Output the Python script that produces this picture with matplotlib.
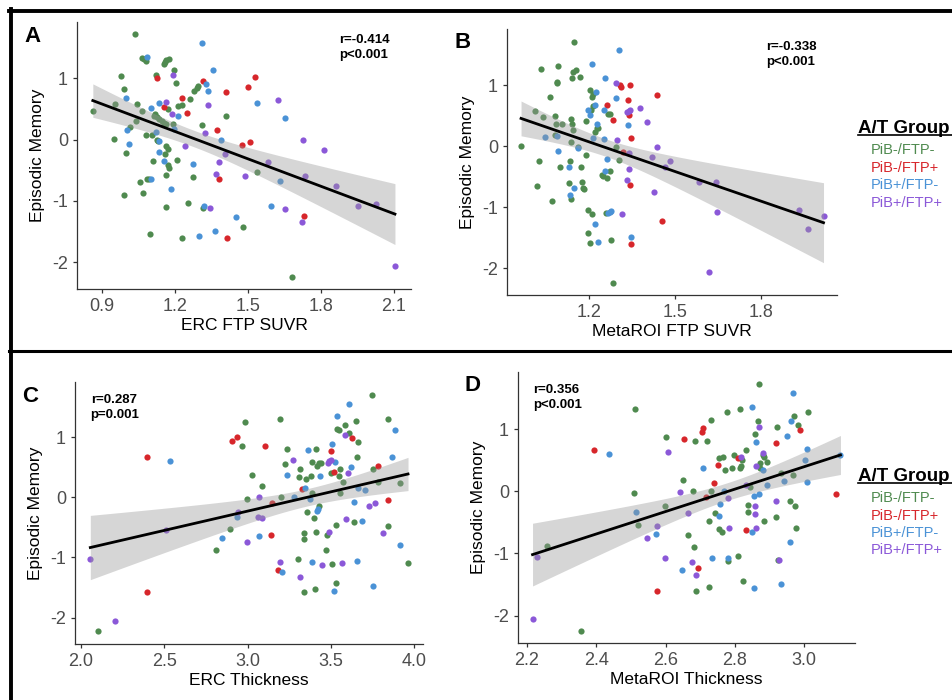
import numpy as np
import matplotlib
matplotlib.use("Agg")
import matplotlib.pyplot as plt
from matplotlib.lines import Line2D

plt.rcParams['font.family'] = ['Liberation Sans', 'DejaVu Sans']

groups = ["PiB-/FTP-", "PiB-/FTP+", "PiB+/FTP-", "PiB+/FTP+"]
group_colors = ["#4f8a4f", "#d7262b", "#4a92d6", "#8b58d8"]
y_label = "Episodic Memory"

# ---- panel A: ERC FTP SUVR ----
erc_suvr_x = [
    [1.034, 1.064, 1.082, 1.074, 0.977, 0.990, 1.123, 1.153, 1.157, 1.162, 1.175, 1.197, 1.205,
     1.045, 0.953, 0.862, 1.065, 1.112, 1.119, 1.126, 1.136, 1.146, 1.153, 1.162, 1.171, 1.191,
     1.214, 1.228, 1.262, 1.280, 1.290, 1.296, 1.311, 1.408, 1.041, 1.013, 0.949, 1.080, 1.105,
     1.126, 1.132, 1.000, 1.109, 1.157, 1.162, 1.173, 1.171, 1.176, 1.161, 1.208, 1.085, 1.091,
     1.057, 1.068, 0.992, 1.272, 1.255, 1.164, 1.317, 1.098, 1.228, 1.478, 1.680, 1.538],
    [1.126, 1.315, 1.228, 1.153, 1.249, 1.410, 1.499, 1.527, 1.373, 1.475, 1.510, 1.381, 1.732, 1.414],
    [1.085, 1.311, 1.358, 1.326, 1.337, 0.997, 1.100, 1.136, 1.213, 1.194, 1.003, 1.011, 1.120,
     1.134, 1.136, 1.156, 1.184, 1.273, 1.101, 1.389, 1.537, 1.652, 1.320, 1.451, 1.300, 1.363,
     1.594, 1.630],
    [1.191, 1.164, 1.337, 1.188, 1.322, 1.239, 1.380, 1.404, 1.369, 1.486, 1.343, 1.581, 1.622,
     1.728, 1.813, 1.736, 1.862, 1.952, 2.026, 1.653, 1.720, 2.104],
]
erc_suvr_y = [
    [1.73, 1.33, 1.28, 1.31, 1.04, 0.82, 1.06, 1.23, 1.27, 1.30, 1.32, 1.13, 0.93,
     0.58, 0.58, 0.47, 0.46, 0.38, 0.41, 0.37, 0.34, 0.30, 0.27, 0.26, 0.50, 0.26,
     0.55, 0.56, 0.67, 0.80, 0.85, 0.87, 0.24, 0.38, 0.31, 0.20, 0.01, 0.07, 0.08,
     0.00, -0.03, -0.22, -0.35, -0.23, -0.11, -0.15, -0.41, -0.46, -0.58, -0.34, -0.65, -0.65,
     -0.70, -0.88, -0.90, -0.61, -1.04, -1.10, -1.12, -1.54, -1.60, -1.43, -2.25, -0.53],
    [1.00, 0.95, 0.68, 0.53, 0.44, 0.77, 0.86, 1.02, 0.15, -0.09, -0.04, -0.64, -1.24, -1.60],
    [1.35, 1.58, 1.13, 0.90, 0.79, 0.68, 0.51, 0.59, 0.38, 0.17, 0.16, -0.08, 0.12,
     -0.03, -0.21, -0.35, -0.81, -0.40, -0.65, 0.00, 0.60, 0.35, -1.08, -1.27, -1.57, -1.49,
     -1.08, -0.68],
    [1.05, 0.61, 0.57, 0.41, 0.11, -0.10, -0.37, -0.23, -0.56, -0.59, -1.11, -0.36, 0.64,
     -0.01, -0.17, -0.60, -0.75, -1.08, -1.05, -1.14, -1.35, -2.07],
]

# ---- panel B: MetaROI FTP SUVR ----
meta_suvr_x = [
    [1.146, 1.031, 1.091, 1.144, 1.156, 1.140, 1.167, 1.087, 1.089, 1.065, 1.013, 1.040, 1.081,
     1.086, 1.107, 1.083, 1.138, 1.139, 1.143, 1.191, 1.202, 1.209, 1.214, 1.213, 1.208, 1.221,
     1.228, 1.233, 1.267, 1.272, 1.025, 1.100, 1.132, 1.172, 1.191, 1.020, 1.130, 1.175, 1.179,
     1.181, 1.137, 1.072, 1.138, 1.161, 1.303, 1.246, 1.250, 1.264, 1.272, 1.195, 1.209, 1.198,
     1.205, 1.278, 1.261, 1.282, 0.963, 1.293],
    [1.311, 1.307, 1.342, 1.337, 1.262, 1.340, 1.282, 1.347, 1.317, 1.436, 1.342, 1.454, 1.346],
    [1.303, 1.211, 1.255, 1.226, 1.293, 1.195, 1.204, 1.221, 1.254, 1.335, 1.229, 1.045, 1.088,
     1.093, 1.160, 1.215, 1.251, 1.262, 1.255, 1.130, 1.146, 1.132, 1.278, 1.272, 1.267, 1.220,
     1.233, 1.345],
    [1.293, 1.331, 1.342, 1.338, 1.379, 1.403, 1.299, 1.340, 1.438, 1.419, 1.484, 1.338, 1.331,
     1.426, 1.465, 1.585, 1.642, 1.646, 1.314, 1.931, 1.963, 2.018, 1.620],
]
meta_suvr_y = [
    [1.71, 1.27, 1.31, 1.22, 1.25, 1.12, 1.13, 1.05, 1.03, 0.80, 0.57, 0.47, 0.49,
     0.37, 0.37, 0.18, 0.45, 0.36, 0.26, 0.41, 0.92, 0.80, 0.85, 0.65, 0.59, 0.23,
     0.30, 0.29, 0.53, 0.52, -0.25, -0.35, -0.25, -0.35, -0.15, -0.65, -0.61, -0.58, -0.68,
     -0.71, -0.87, -0.90, 0.07, -0.01, -0.22, -0.47, -0.49, -0.53, -0.41, -1.04, -1.12, -1.43,
     -1.59, -1.54, -1.10, -2.24, 0.01, -0.01],
    [0.97, 1.00, 1.01, 0.76, 0.67, 0.51, 0.43, 0.14, -0.10, 0.84, -0.64, -1.23, -1.60],
    [1.57, 1.34, 1.11, 0.88, 0.79, 0.60, 0.51, 0.67, 0.59, 0.34, 0.37, 0.15, 0.17,
     -0.08, -0.03, 0.14, 0.11, -0.21, -0.40, -0.35, -0.68, -0.80, -1.06, -1.08, -1.09, -1.27,
     -1.57, -1.49],
    [1.04, 0.56, 0.60, 0.58, 0.63, 0.40, 0.10, -0.11, -0.01, -0.17, -0.25, -0.37, -0.56,
     -0.75, -0.35, -0.59, -0.59, -1.08, -1.11, -1.05, -1.35, -1.15, -2.06],
]

# ---- panel C: ERC thickness ----
erc_thick_x = [
    [3.748, 2.985, 3.193, 2.965, 3.025, 3.089, 3.237, 3.227, 3.313, 3.309, 3.353, 3.379, 3.389,
     3.409, 3.431, 3.415, 3.439, 3.536, 3.548, 3.586, 3.612, 3.652, 3.666, 3.660, 3.842, 3.554,
     3.500, 3.552, 3.576, 3.756, 3.786, 3.916, 3.556, 3.385, 3.199, 2.997, 3.359, 3.399, 3.431,
     3.341, 3.339, 3.409, 3.475, 3.532, 3.642, 3.842, 2.895, 2.809, 3.469, 3.305, 3.506, 3.530,
     3.964, 3.405, 3.337, 2.104],
    [2.907, 2.939, 3.103, 2.398, 3.500, 3.520, 3.626, 3.786, 3.327, 3.844, 3.139, 3.183, 2.398, 3.145],
    [3.612, 3.536, 3.884, 3.510, 3.365, 3.528, 3.622, 3.868, 3.235, 3.437, 3.345, 3.281, 3.375,
     3.425, 3.417, 3.662, 3.704, 3.642, 3.690, 2.533, 2.847, 3.071, 2.939, 3.658, 3.387, 3.209,
     3.522, 3.752, 3.916],
    [3.584, 3.271, 3.492, 3.486, 3.502, 3.602, 3.067, 2.943, 3.089, 3.065, 2.997, 2.509, 2.056,
     2.202, 3.728, 3.764, 3.590, 3.490, 3.816, 3.197, 3.445, 3.568, 3.313],
]
erc_thick_y = [
    [1.71, 1.26, 1.30, 0.85, 0.37, 0.19, 0.80, 0.55, 0.48, 0.34, 0.30, 0.36, 0.59,
     0.80, 0.58, 0.52, 0.58, 1.13, 1.12, 1.21, 1.07, 1.27, 0.92, 0.67, 1.31, 0.47,
     0.41, 0.36, 0.26, 0.48, 0.26, 0.24, 0.07, 0.07, 0.01, -0.02, -0.24, -0.34, -0.14,
     -0.60, -0.69, -0.57, -0.63, -0.46, -0.41, -0.47, -0.53, -0.87, -0.88, -1.02, -1.11, -1.42,
     -1.09, -1.53, -1.58, -2.23],
    [0.94, 1.01, 0.85, 0.67, 0.77, 0.43, 0.98, 0.52, 0.14, -0.04, -0.62, -1.21, -1.58, -0.09],
    [1.56, 1.35, 1.12, 0.89, 0.79, 0.59, 0.51, 0.68, 0.37, 0.35, 0.16, 0.01, -0.02,
     -0.19, -0.22, 0.15, 0.12, -0.07, -0.39, 0.60, -0.68, -0.64, -0.33, -1.06, -1.07, -1.25,
     -1.55, -1.47, -0.79],
    [1.04, 0.63, 0.60, 0.57, 0.62, 0.41, 0.00, -0.24, -0.35, -0.33, -0.74, -0.54, -1.03,
     -2.05, -0.15, -0.10, -0.36, -0.58, -0.59, -1.07, -1.13, -1.09, -1.33],
]

# ---- panel D: MetaROI thickness ----
meta_thick_x = [
    [2.869, 2.511, 3.011, 2.778, 2.816, 2.972, 2.732, 2.868, 2.981, 2.921, 2.600, 2.686, 2.720,
     2.858, 2.833, 2.882, 2.884, 2.798, 2.753, 2.767, 2.821, 2.819, 2.874, 2.894, 2.773, 2.791,
     2.814, 2.872, 2.651, 2.933, 2.968, 2.509, 2.730, 2.679, 2.845, 2.599, 2.958, 2.973, 2.837,
     2.838, 2.918, 2.744, 2.726, 2.753, 2.764, 2.884, 2.976, 2.666, 2.681, 2.521, 2.258, 2.781,
     2.809, 2.824, 2.725, 2.687, 2.357, 2.925],
    [2.709, 2.705, 2.654, 2.393, 2.989, 2.920, 2.752, 2.810, 2.740, 2.716, 3.091, 2.832, 2.695, 2.574],
    [2.967, 2.850, 2.961, 2.952, 2.862, 3.008, 3.105, 3.002, 2.709, 2.882, 2.893, 2.941, 2.769,
     2.855, 2.870, 2.758, 2.753, 2.849, 2.514, 2.572, 2.436, 2.647, 2.733, 2.780, 2.855, 2.934,
     2.958, 3.008],
    [2.870, 2.606, 2.819, 2.880, 2.861, 2.642, 2.779, 2.920, 2.857, 2.858, 2.666, 2.576, 2.547,
     2.782, 2.862, 2.598, 2.677, 2.687, 2.927, 2.230, 2.216, 2.833],
]
meta_thick_y = [
    [1.73, 1.32, 1.27, 1.27, 1.32, 1.21, 1.14, 1.13, 1.06, 1.03, 0.87, 0.81, 0.81,
     0.92, 0.67, 0.59, 0.56, 0.58, 0.53, 0.55, 0.50, 0.40, 0.46, 0.48, 0.34, 0.37,
     0.37, 0.37, 0.19, 0.30, 0.26, -0.02, 0.00, 0.01, 0.07, -0.24, -0.16, -0.24, -0.22,
     -0.34, -0.41, -0.35, -0.47, -0.61, -0.66, -0.48, -0.59, -0.70, -0.90, -0.54, -0.88, -1.12,
     -1.04, -1.44, -1.54, -1.60, -2.25, -1.10],
    [1.02, 0.95, 0.85, 0.67, 0.99, 0.77, 0.43, 0.53, 0.14, -0.09, -0.04, -0.63, -1.24, -1.60],
    [1.58, 1.35, 1.13, 0.89, 0.80, 0.68, 0.59, 0.50, 0.38, 0.35, 0.11, 0.16, 0.01,
     -0.08, -0.04, -0.21, -0.40, -0.66, -0.34, -0.68, 0.60, -1.27, -1.08, -1.07, -1.56, -1.49,
     -0.81, 0.15],
    [1.04, 0.64, 0.56, 0.61, 0.40, -0.01, -0.10, -0.16, -0.24, -0.37, -0.35, -0.55, -0.75,
     -0.59, -0.59, -1.08, -1.13, -1.34, -1.10, -1.05, -2.06, 0.10],
]

panels = [
    # letter, x label, xs, ys, xlim, xticks, stats text, axes rect in pixels (l, t, r, b), stats at right?
    ("A", "ERC FTP SUVR", erc_suvr_x, erc_suvr_y, (0.797, 2.17), [0.9, 1.2, 1.5, 1.8, 2.1],
     "r=-0.414\np<0.001", (77, 22, 411, 289), True),
    ("B", "MetaROI FTP SUVR", meta_suvr_x, meta_suvr_y, (0.914, 2.065), [1.2, 1.5, 1.8],
     "r=-0.338\np<0.001", (507, 29, 837, 295), True),
    ("C", "ERC Thickness", erc_thick_x, erc_thick_y, (1.964, 4.054), [2.0, 2.5, 3.0, 3.5, 4.0],
     "r=0.287\np=0.001", (75, 382, 423, 644), False),
    ("D", "MetaROI Thickness", meta_thick_x, meta_thick_y, (2.174, 3.147), [2.2, 2.4, 2.6, 2.8, 3.0],
     "r=0.356\np<0.001", (518, 372, 855, 643), False),
]

W, H = 952, 700
fig = plt.figure(figsize=(W / 100, H / 100), dpi=100)

for letter, xlab, xs, ys, xlim, xticks, stats, (l, t, r, b), stats_right in panels:
    ax = fig.add_axes([l / W, 1 - b / H, (r - l) / W, (b - t) / H])
    for gx, gy, col in zip(xs, ys, group_colors):
        ax.scatter(gx, gy, s=20, color=col, linewidths=0, zorder=2)

    # linear fit with 95% confidence band, like geom_smooth(method="lm")
    x_all = np.concatenate([np.array(g) for g in xs])
    y_all = np.concatenate([np.array(g) for g in ys])
    n = len(x_all)
    slope, icpt = np.polyfit(x_all, y_all, 1)
    resid = y_all - (slope * x_all + icpt)
    s_err = np.sqrt(np.sum(resid ** 2) / (n - 2))
    xg = np.linspace(x_all.min(), x_all.max(), 100)
    yg = slope * xg + icpt
    se = s_err * np.sqrt(1 / n + (xg - x_all.mean()) ** 2 / np.sum((x_all - x_all.mean()) ** 2))
    ax.fill_between(xg, yg - 1.98 * se, yg + 1.98 * se, color="#999999", alpha=0.4,
                    linewidth=0, zorder=3)
    ax.plot(xg, yg, color="black", lw=2, zorder=4)

    ax.set_xlim(*xlim)
    ax.set_ylim(-2.44, 1.92)
    ax.set_xticks(xticks)
    ax.set_yticks([-2, -1, 0, 1])
    ax.set_yticklabels(["-2", "-1", "0", "1"])
    ax.spines[["top", "right"]].set_visible(False)
    for sp in ("left", "bottom"):
        ax.spines[sp].set_color("#333333")
        ax.spines[sp].set_linewidth(0.9)
    ax.tick_params(colors="#333333", labelcolor="#4d4d4d", labelsize=13, length=3, width=0.9)
    ax.set_xlabel(xlab, fontsize=12.5, color="black", labelpad=2)
    ax.set_ylabel(y_label, fontsize=12.5, color="black", labelpad=5)

    if stats_right:
        ax.text(0.785, 0.955, stats, transform=ax.transAxes, ha="left", va="top",
                fontsize=9.5, fontweight="bold", linespacing=1.35)
    else:
        ax.text(0.045, 0.955, stats, transform=ax.transAxes, ha="left", va="top",
                fontsize=9.5, fontweight="bold", linespacing=1.35)

    # panel letter
    fig.text((l - 53) / W, 1 - (t + 14) / H, letter, fontsize=16, fontweight="bold",
             ha="left", va="center")

# legends at the right of B and D
for top in (120, 468):
    fig.text(858 / W, 1 - top / H, "A/T Group", fontsize=13.5, fontweight="bold",
             ha="left", va="top")
    fig.add_artist(Line2D([858 / W, 1.0], [1 - (top + 15) / H] * 2, color="black", lw=1.2))
    for i, (g, col) in enumerate(zip(groups, group_colors)):
        fig.text(871 / W, 1 - (top + 30 + 17.5 * i) / H, g, fontsize=10.5, color=col,
                 ha="left", va="center")

# figure borders
fig.add_artist(Line2D([10.5 / W, 10.5 / W], [1 - 9 / H, 0], color="black", lw=2.8))
fig.add_artist(Line2D([9 / W, 1.0], [1 - 10.8 / H] * 2, color="black", lw=2.8))
fig.add_artist(Line2D([9 / W, 1.0], [1 - 351 / H] * 2, color="black", lw=2.2))

fig.savefig("out.png", dpi=100)
